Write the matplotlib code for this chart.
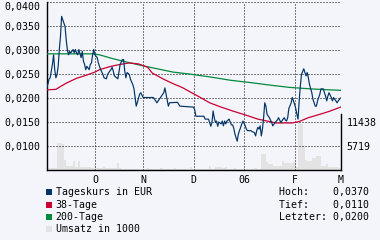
import matplotlib

matplotlib.use("Agg")
import matplotlib.pyplot as plt  # noqa: E402
from matplotlib.patches import Rectangle  # noqa: E402

BG = "#f3f5fa"
C_PRICE = "#003366"
C_MA38 = "#cc0033"
C_MA200 = "#008a3c"
C_VOL = "#e3e3e3"
FONT = "DejaVu Sans Mono"

# x = trading day index (0 = start of Sep 2005)
price_x = [
    0, 1, 1.5, 2.5, 3, 3.5, 4, 4.5, 5, 5.5, 6, 6.5, 7, 8, 8.5, 9, 9.5, 10, 10.5, 11.5,
    12, 12.5, 13, 13.5, 14, 15, 15.5, 16, 16.5, 17, 17.5, 18.5, 19, 19.5, 20, 20.5, 21, 22,
    22.5, 23, 23.5, 24.5, 25, 26, 26.5, 27.5, 28, 28.5, 29, 29.5, 31, 32, 33, 33.5, 34, 34.5,
    35, 36, 36.5, 37.5, 38, 39, 40, 40.5, 41, 42, 46.5, 47.5, 48, 49, 50, 51, 51.5, 52, 52.5,
    53, 53.5, 57, 58, 64, 64.5, 65, 68.5, 69, 70.5, 71.5, 72, 72.5, 73, 73.5, 74, 74.5, 75,
    76, 76.5, 77, 77.5, 78, 78.5, 79.5, 80, 80.5, 81, 81.5, 82, 83, 83.5, 84, 84.5, 85, 85.5,
    86.5, 87, 87.5, 89, 89.5, 90.5, 91, 91.5, 92, 92.5, 93, 93.5, 94, 94.5, 95, 95.5, 96, 97,
    98, 98.5, 99.5, 100.5, 101, 101.5, 102, 103, 103.5, 104, 104.5, 105, 105.5, 106.5, 107,
    108, 108.5, 109, 109.5, 110, 110.5, 111, 112, 112.5, 113, 113.5, 114, 114.5, 115.5, 116,
    117, 117.5, 118, 119, 119.5, 120.5, 121, 121.5, 122, 122.5, 123, 124, 124.5, 125, 125.5,
    126, 126.5, 127, 128,
]
price = [
    0.0219, 0.0239, 0.0242, 0.0270, 0.0290, 0.0259, 0.0242, 0.0249, 0.0266, 0.0301, 0.0328,
    0.0370, 0.0363, 0.0349, 0.0321, 0.0301, 0.0290, 0.0297, 0.0294, 0.0301, 0.0294, 0.0301,
    0.0294, 0.0290, 0.0301, 0.0284, 0.0297, 0.0277, 0.0270, 0.0259, 0.0266, 0.0259, 0.0270,
    0.0273, 0.0290, 0.0301, 0.0290, 0.0284, 0.0273, 0.0266, 0.0259, 0.0249, 0.0242, 0.0240,
    0.0249, 0.0256, 0.0259, 0.0264, 0.0256, 0.0246, 0.0240, 0.0270, 0.0280, 0.0280, 0.0256,
    0.0242, 0.0253, 0.0249, 0.0239, 0.0228, 0.0220, 0.0183, 0.0200, 0.0208, 0.0211, 0.0201,
    0.0201, 0.0194, 0.0190, 0.0197, 0.0204, 0.0211, 0.0221, 0.0208, 0.0194, 0.0183, 0.0190,
    0.0191, 0.0183, 0.0181, 0.0175, 0.0162, 0.0162, 0.0156, 0.0156, 0.0141, 0.0149, 0.0173,
    0.0159, 0.0149, 0.0152, 0.0141, 0.0150, 0.0146, 0.0152, 0.0142, 0.0152, 0.0146, 0.0152,
    0.0156, 0.0149, 0.0144, 0.0144, 0.0137, 0.0125, 0.0110, 0.0125, 0.0132, 0.0139, 0.0146,
    0.0152, 0.0142, 0.0135, 0.0132, 0.0132, 0.0130, 0.0128, 0.0121, 0.0132, 0.0139, 0.0135,
    0.0142, 0.0121, 0.0135, 0.0159, 0.0190, 0.0183, 0.0166, 0.0159, 0.0149, 0.0142, 0.0149,
    0.0154, 0.0159, 0.0154, 0.0149, 0.0156, 0.0159, 0.0154, 0.0152, 0.0159, 0.0178, 0.0190,
    0.0201, 0.0187, 0.0178, 0.0166, 0.0156, 0.0194, 0.0225, 0.0249, 0.0261, 0.0253, 0.0246,
    0.0253, 0.0242, 0.0228, 0.0211, 0.0197, 0.0183, 0.0183, 0.0194, 0.0208, 0.0219, 0.0219,
    0.0211, 0.0204, 0.0194, 0.0204, 0.0211, 0.0201, 0.0194, 0.0201, 0.0197, 0.0194, 0.0190,
    0.0194, 0.0200,
]

ma38_x = [0, 4, 6, 9, 13, 17, 21, 23, 28, 32, 36, 40, 44, 46, 51, 55, 59, 62, 67, 71, 76,
          81, 87, 92, 96, 100, 107, 110, 114, 119, 123, 128]
ma38 = [0.0217, 0.0218, 0.0224, 0.0232, 0.0241, 0.0247, 0.0254, 0.0259, 0.0266, 0.0270,
        0.0273, 0.0271, 0.0264, 0.0252, 0.0239, 0.0230, 0.0222, 0.0214, 0.0201, 0.0190,
        0.0181, 0.0173, 0.0164, 0.0156, 0.0152, 0.0148, 0.0148, 0.0151, 0.0159, 0.0166,
        0.0172, 0.0181]

ma200_x = [0, 20, 23, 28, 33, 41, 48, 55, 62, 71, 80, 89, 97, 106, 115, 123, 128]
ma200 = [0.0292, 0.0292, 0.0290, 0.0283, 0.0277, 0.0268, 0.0261, 0.0254, 0.0250, 0.0244,
         0.0237, 0.0232, 0.0227, 0.0222, 0.0219, 0.0217, 0.0216]

# Umsatz in 1000, one value per trading day 0..128
volume = [
    1410, 400, 550, 450, 400, 6450, 6400, 6200, 2350, 950,
    900, 900, 2100, 780, 2100, 780, 700, 620, 600, 650,
    580, 1180, 400, 420, 380, 620, 400, 380, 450, 400,
    420, 1720, 380, 300, 350, 280, 320, 300, 350, 280,
    300, 260, 350, 300, 400, 280, 250, 330, 300, 260,
    380, 300, 280, 350, 260, 300, 400, 280, 320, 260,
    300, 350, 280, 620, 300, 260, 350, 300, 280, 330,
    300, 940, 350, 340, 620, 600, 620, 580, 600, 300,
    350, 280, 400, 300, 330, 260, 380, 300, 350, 280,
    300, 400, 330, 350, 3930, 3930, 1950, 1410, 1410, 940,
    900, 950, 950, 2190, 1580, 1550, 1580, 1570, 1950, 780,
    11760, 11000, 5880, 2500, 2190, 2190, 2750, 2750, 3300, 3300,
    940, 940, 1410, 620, 600, 650, 620, 600, 500,
]

month_pos = [21, 42, 64, 86, 108, 128]
month_labels = ["O", "N", "D", "06", "F", "M"]
price_ticks = [0.010, 0.015, 0.020, 0.025, 0.030, 0.035, 0.040]
vol_ticks = [5719, 11438]

legend_items = [
    (C_PRICE, "Tageskurs in EUR"),
    (C_MA38, "38-Tage"),
    (C_MA200, "200-Tage"),
    (C_VOL, "Umsatz in 1000"),
]
stats = ["Hoch:    0,0370", "Tief:    0,0110", "Letzter: 0,0200"]

W, H = 380, 240
fig = plt.figure(figsize=(W / 100, H / 100), dpi=100)
fig.patch.set_facecolor(BG)

left, right, top, bottom = 46.7, 340.5, 2, 170
rect = [left / W, 1 - bottom / H, (right - left) / W, (bottom - top) / H]
p_lo, p_hi = 0.005, 0.040

# volume axes underneath (right scale)
axv = fig.add_axes(rect)
axv.set_facecolor(BG)
axv.bar(range(len(volume)), volume, width=1.0, color=C_VOL, linewidth=0, zorder=1)
axv.set_ylim(0, (p_hi - p_lo) / 0.005 * vol_ticks[0])
axv.set_xlim(0, 128)
axv.yaxis.tick_right()
axv.set_yticks(vol_ticks)
axv.set_yticklabels([str(v) for v in vol_ticks], fontfamily=FONT, fontsize=7.1)
axv.set_xticks(month_pos)
axv.set_xticklabels(month_labels, fontfamily=FONT, fontsize=7.1)
axv.tick_params(axis="both", length=0, colors="black")
axv.tick_params(axis="x", pad=3.5)
axv.tick_params(axis="y", pad=4.3)
axv.set_axisbelow(False)
axv.grid(True, axis="x", color="black", linewidth=0.72, linestyle=(0, (1, 2)))
axv.spines["top"].set_visible(False)
for s in ("left", "bottom", "right"):
    axv.spines[s].set_color("black")
    axv.spines[s].set_linewidth(1.0)
axv.spines["right"].set_bounds(0, 13400)

# price axes on top (left scale), transparent background
axp = fig.add_axes(rect)
axp.patch.set_visible(False)
for s in axp.spines.values():
    s.set_visible(False)
axp.plot(ma200_x, ma200, color=C_MA200, linewidth=0.9, zorder=3)
axp.plot(ma38_x, ma38, color=C_MA38, linewidth=0.9, zorder=3)
axp.plot(price_x, price, color=C_PRICE, linewidth=0.85, zorder=4)
axp.set_xlim(0, 128)
axp.set_ylim(p_lo, p_hi)
axp.set_xticks([])
axp.set_yticks(price_ticks)
axp.set_yticklabels([f"{v:.4f}".replace(".", ",") for v in price_ticks],
                    fontfamily=FONT, fontsize=7.1)
axp.tick_params(axis="y", length=0, pad=4.8, colors="black")
axp.get_yticklabels()[-1].set_va("top")
axp.grid(True, axis="y", color="black", linewidth=0.72, linestyle=(0, (1, 2)))

# legend block under the chart
for i, (col, lab) in enumerate(legend_items):
    yc = 192.3 + i * 12.3
    fig.add_artist(Rectangle((46 / W, 1 - (yc + 3) / H), 6 / W, 6 / H,
                             transform=fig.transFigure, facecolor=col, edgecolor="none"))
    fig.text(55.7 / W, 1 - yc / H, lab, fontfamily=FONT, fontsize=7.1,
             va="center", ha="left")
for i, s in enumerate(stats):
    yc = 192.3 + i * 12.3
    fig.text(369.3 / W, 1 - yc / H, s, fontfamily=FONT, fontsize=7.1,
             va="center", ha="right")

fig.savefig("out.png", dpi=100, facecolor=BG)
